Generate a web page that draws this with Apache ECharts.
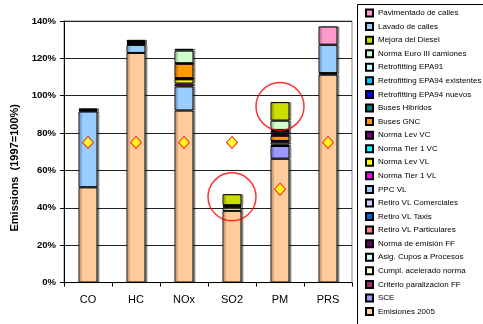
<!DOCTYPE html>
<html>
<head>
<meta charset="utf-8">
<script src="https://cdn.jsdelivr.net/npm/echarts@6/dist/echarts.min.js"></script>
<style>
html,body{margin:0;padding:0;background:#fff;}
#chart{width:483px;height:324px;}
</style>
</head>
<body>
<div id="chart"></div>
<script>
// ---- data ----
const categories = ['CO', 'HC', 'NOx', 'SO2', 'PM', 'PRS'];
const yTicks = [0, 20, 40, 60, 80, 100, 120, 140];

// stacked segments, bottom to top (values in % of 1997)
const emisiones2005      = [51.0, 122.9, 92.1, 38.4, 66.3, 111.3];
const sce                = [null, null, null, null, 6.8, null];
const criterioParal      = [null, null, null, null, 0.8, null];
const cumplAcelerado     = [null, null, null, 1.7, 1.2, null];
const asigCupos          = [null, null, null, null, null, null];
const normaEmisionFF     = [null, null, null, 0.7, 0.7, 0.8];
const retiroParticulares = [null, null, null, null, null, null];
const retiroTaxis        = [null, null, null, null, null, null];
const retiroComerciales  = [null, null, null, null, null, null];
const ppcVL              = [40.6, 4.3, 12.9, null, null, null];
const normaTier1VL       = [null, null, 1.5, null, null, null];
const normaLevVL         = [0.5, 0.5, 2.3, null, null, null];
const normaTier1VC       = [null, 0.5, 0.3, null, null, null];
const normaLevVC         = [0.5, 0.5, 0.3, 0.6, null, null];
const busesGNC           = [null, 0.4, 7.7, null, 2.8, null];
const busesHibridos      = [null, null, 0.3, null, 0.6, null];
const epa94Nuevos        = [null, null, null, null, 0.7, null];
const epa94Existentes    = [null, null, null, null, 1.2, null];
const epa91              = [null, null, null, null, 0.6, null];
const euroIII            = [0.5, 0.8, 6.8, null, 5.0, null];
const mejoraDiesel       = [null, null, 0.9, 5.9, 9.9, null];
const lavadoCalles       = [null, null, null, null, null, 15.2];
const pavimentadoCalles  = [null, null, null, null, null, 9.8];

// target markers (diamonds)
const meta = [75, 75, 75, 75, 50, 75];
// highlighted points (red circles)
const highlights = [['SO2', 45.9], ['PM', 94.3]];

const barSeriesDefs = [
  ['Emisiones 2005', emisiones2005, '#FFCC99'],
  ['SCE', sce, '#9999FF'],
  ['Criterio paralizacion FF', criterioParal, '#993366'],
  ['Cumpl. acelerado norma', cumplAcelerado, '#FFFFCC'],
  ['Asig. Cupos a Procesos', asigCupos, '#CCFFFF'],
  ['Norma de emisión FF', normaEmisionFF, '#660066'],
  ['Retiro VL Particulares', retiroParticulares, '#FF8080'],
  ['Retiro VL Taxis', retiroTaxis, '#0066CC'],
  ['Retiro VL Comerciales', retiroComerciales, '#CCCCFF'],
  ['PPC VL', ppcVL, '#99CCFF'],
  ['Norma Tier 1 VL', normaTier1VL, '#FF00FF'],
  ['Norma Lev VL', normaLevVL, '#FFFF00'],
  ['Norma Tier 1 VC', normaTier1VC, '#00FFFF'],
  ['Norma Lev VC', normaLevVC, '#800080'],
  ['Buses GNC', busesGNC, '#FF9900'],
  ['Buses Hibridos', busesHibridos, '#008080'],
  ['Retrofitting EPA94 nuevos', epa94Nuevos, '#0000FF'],
  ['Retrofitting EPA94 existentes', epa94Existentes, '#00CCFF'],
  ['Retrofitting EPA91', epa91, '#CCFFFF'],
  ['Norma Euro III camiones', euroIII, '#CCFFCC'],
  ['Mejora del Diesel', mejoraDiesel, '#CCDD00'],
  ['Lavado de calles', lavadoCalles, '#99CCFF'],
  ['Pavimentado de calles', pavimentadoCalles, '#FF99CC']
];

const series = barSeriesDefs.map(([name, data, color]) => ({
  name, type: 'bar', stack: 'total', data, barWidth: 19,
  itemStyle: {
    color, borderColor: '#000', borderWidth: 1,
    shadowColor: 'rgba(0,0,0,0.35)', shadowOffsetX: 2, shadowOffsetY: 0, shadowBlur: 0
  }
}));

series.push({
  name: 'Meta', type: 'scatter', data: meta, symbol: 'diamond', symbolSize: [11, 12], z: 5,
  itemStyle: { color: '#FFFF00', borderColor: '#FF0000', borderWidth: 1 }
});
series.push({
  name: 'Destacado', type: 'scatter', data: highlights, symbol: 'circle', symbolSize: 48, z: 6,
  itemStyle: { color: 'rgba(0,0,0,0)', borderColor: '#FF0000', borderWidth: 1.5 }
});

const chart = echarts.init(document.getElementById('chart'), null, { renderer: 'canvas' });
chart.setOption({
  animation: false,
  backgroundColor: '#fff',
  textStyle: { fontFamily: 'Liberation Sans, Arial, sans-serif' },
  grid: {
    left: 64, right: 131, top: 21, bottom: 41.4,
    show: true, borderColor: '#888', borderWidth: 1, backgroundColor: '#fff'
  },
  graphic: [{
    type: 'rect', shape: { x: 357.5, y: 4.5, width: 200, height: 400 },
    style: { fill: 'none', stroke: '#000', lineWidth: 1 }, z: 0
  }],
  legend: {
    orient: 'vertical', left: 365, top: 8, padding: 0,
    itemWidth: 7, itemHeight: 7, itemGap: 3.57,
    icon: 'rect',
    textStyle: { fontSize: 8, lineHeight: 10, color: '#000', fontFamily: 'Liberation Sans, Arial, sans-serif' },
    data: barSeriesDefs.map(d => d[0]).reverse()
  },
  xAxis: {
    type: 'category', data: categories,
    axisLine: { lineStyle: { color: '#000', width: 1 } },
    axisTick: { show: true, interval: 0, length: 4, lineStyle: { color: '#000' } },
    axisLabel: { fontSize: 11, color: '#000', margin: 12 },
    splitLine: { show: false }
  },
  yAxis: {
    type: 'value', min: yTicks[0], max: yTicks[yTicks.length - 1], interval: 20,
    name: 'Emissions  (1997=100%)', nameLocation: 'middle', nameGap: 44, nameRotate: 90,
    nameTextStyle: { fontSize: 11, fontWeight: 'bold', color: '#000', padding: [0, 32, 0, 0] },
    axisLine: { show: true, lineStyle: { color: '#000', width: 1 } },
    axisTick: { show: true, length: 4, lineStyle: { color: '#000' } },
    axisLabel: { fontSize: 9.5, fontWeight: 'bold', color: '#000', margin: 8, formatter: '{value}%' },
    splitLine: { show: true, lineStyle: { color: '#222', width: 1 } }
  },
  series
});
</script>
</body>
</html>
